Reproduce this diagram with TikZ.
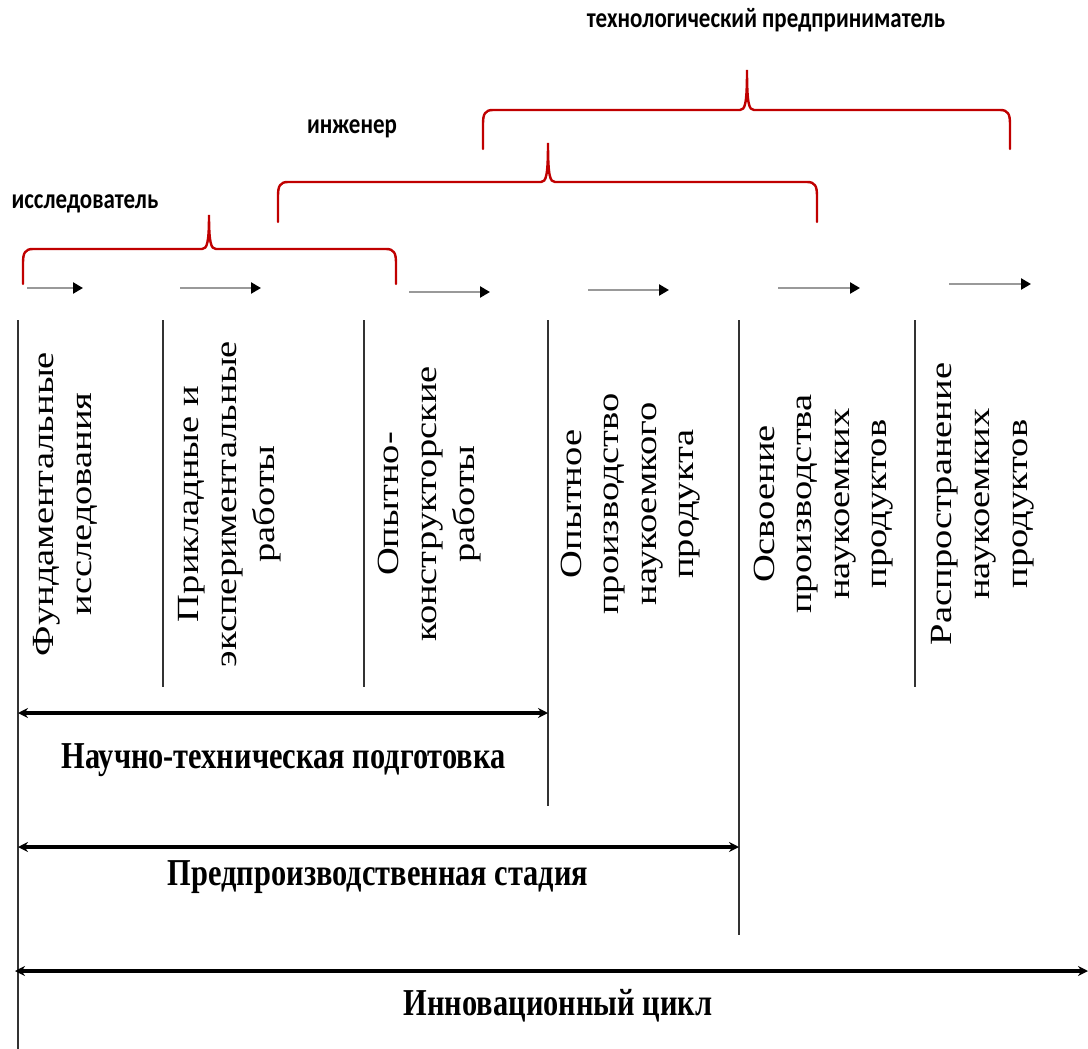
\documentclass[tikz,border=0pt]{standalone}
\usepackage{graphicx}
\usepackage{fontspec}
\setmainfont{Liberation Serif}
\newfontfamily\lblfont{Carlito}
\usetikzlibrary{arrows.meta}
\definecolor{bred}{HTML}{C00000}
\newcommand\vtx[1]{\scalebox{1}[0.8]{\begin{tabular}{@{}c@{}}#1\end{tabular}}}
\newcommand\rolelbl[1]{\scalebox{0.82}[1]{\lblfont\bfseries\fontsize{28}{32}\selectfont #1}}
\newcommand\spanlbl[1]{\scalebox{0.8}[1]{\bfseries\fontsize{38}{44}\selectfont #1}}
% brace: x1, x2, xc, ybottom, yhoriz, ytip
\newcommand\redbrace[6]{%
  \draw[bracestyle] (#1,#4) -- (#1,{#5+14})
    .. controls (#1,{#5+4}) and ({#1+2},#5) .. ({#1+10},#5)
    -- ({#3-7},#5)
    .. controls ({#3-2},#5) and (#3,{#5-6}) .. (#3,#6)
    .. controls (#3,{#5-6}) and ({#3+2},#5) .. ({#3+7},#5)
    -- ({#2-10},#5)
    .. controls ({#2-2},#5) and (#2,{#5+4}) .. (#2,{#5+14})
    -- (#2,#4);}
\begin{document}
\begin{tikzpicture}[x=1pt,y=-1pt,
  vline/.style={draw=black!80, line width=1.4pt},
  bracestyle/.style={draw=bred, line width=2.4pt, line cap=round},
  steparrow/.style={draw=black!40, line width=2.8pt,
     -{Triangle[length=10pt,width=11pt,color=black]}},
  spanarrow/.style={draw=black, line width=3.2pt,
     {Stealth[length=10pt,width=10pt]}-{Stealth[length=10pt,width=10pt]}},
  vtext/.style={rotate=90, inner sep=0pt, anchor=center,
     font=\fontsize{38.5}{47}\selectfont},
  rlabel/.style={inner sep=0pt, anchor=base},
  slabel/.style={inner sep=0pt, anchor=base}]
\useasboundingbox (0,0) rectangle (1088,1049);
\fill[white] (0,0) rectangle (1088,1049);

% vertical separator lines
\coordinate (l0t) at (18,320);  \coordinate (l0b) at (18,1049);
\coordinate (l1t) at (163,320); \coordinate (l1b) at (163,687);
\coordinate (l2t) at (364,320); \coordinate (l2b) at (364,687);
\coordinate (l3t) at (548,320); \coordinate (l3b) at (548,806);
\coordinate (l4t) at (739,320); \coordinate (l4b) at (739,935);
\coordinate (l5t) at (915,320); \coordinate (l5b) at (915,687);
\foreach \i in {0,...,5} \draw[vline] (l\i t) -- (l\i b);

% stage texts
\node[vtext] (c1) at (65,504) {\vtx{Фундаментальные\\исследования}};
\node[vtext] (c2) at (229,504) {\vtx{Прикладные и\\экспериментальные\\работы}};
\node[vtext] (c3) at (429,504) {\vtx{Опытно-\\конструкторские\\работы}};
\node[vtext] (c4) at (630,504) {\vtx{Опытное\\производство\\наукоемкого\\продукта}};
\node[vtext] (c5) at (823,504) {\vtx{Освоение\\производства\\наукоемких\\продуктов}};
\node[vtext] (c6) at (982,504) {\vtx{Распространение\\наукоемких\\продуктов}};

% small step arrows
\coordinate (a1s) at (27,288);  \coordinate (a1e) at (83,288);
\coordinate (a2s) at (180,288); \coordinate (a2e) at (261,288);
\coordinate (a3s) at (409,292); \coordinate (a3e) at (490,292);
\coordinate (a4s) at (588,290); \coordinate (a4e) at (669,290);
\coordinate (a5s) at (778,288); \coordinate (a5e) at (860,288);
\coordinate (a6s) at (949,284); \coordinate (a6e) at (1031,284);
\foreach \i in {1,...,6} \draw[steparrow] (a\i s) -- (a\i e);

% red braces
\redbrace{23}{396}{209}{284}{249}{215}
\redbrace{278}{817}{548}{222}{182}{143}
\redbrace{483}{1010}{747}{149}{110}{70}

% role labels
\node[rlabel] (r1) at (85,208) {\rolelbl{исследователь}};
\node[rlabel] (r2) at (352,133) {\rolelbl{инженер}};
\node[rlabel] (r3) at (766,28) {\rolelbl{технологический предприниматель}};

% span arrows
\coordinate (s1l) at (18,713);  \coordinate (s1r) at (548,713);
\coordinate (s2l) at (18,847);  \coordinate (s2r) at (739,847);
\coordinate (s3l) at (15,971);  \coordinate (s3r) at (1088,971);
\draw[spanarrow] (s1l) -- (s1r);
\draw[spanarrow] (s2l) -- (s2r);
\draw[spanarrow] (s3l) -- (s3r);

\node[slabel] (t1) at (283.5,768) {\spanlbl{Научно-техническая подготовка}};
\node[slabel] (t2) at (378,885) {\spanlbl{Предпроизводственная стадия}};
\node[slabel] (t3) at (558,1015) {\spanlbl{Инновационный цикл}};
\end{tikzpicture}
\end{document}
